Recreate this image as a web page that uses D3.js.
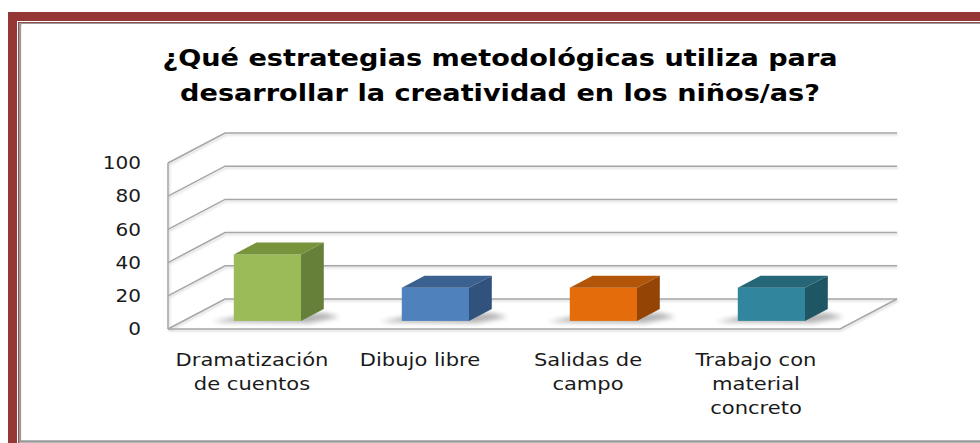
<!DOCTYPE html>
<html>
<head>
<meta charset="utf-8">
<script src="https://cdn.jsdelivr.net/npm/d3@7"></script>
<style>
  body { margin: 0; background: #fff; }
  text { font-family: "DejaVu Sans", sans-serif; fill: #1a1a1a; }
  .title { font-weight: bold; font-size: 23px; text-anchor: middle; fill: #000; }
  .tick-label { font-size: 17px; text-anchor: end; }
  .cat-label { font-size: 17px; text-anchor: middle; }
  .grid { stroke: #a6a6a6; stroke-width: 1.5; fill: none; }
</style>
</head>
<body>
<svg width="980" height="443"></svg>
<script>
const categories = [
  ['Dramatización', 'de cuentos'],
  ['Dibujo libre'],
  ['Salidas de', 'campo'],
  ['Trabajo con', 'material', 'concreto']
];
const values = [40, 20, 20, 20];
const yTicks = [0, 20, 40, 60, 80, 100];
const frontColors = ['#9bbb59', '#4f81bd', '#e46c0a', '#31859c'];
const topColors = ['#77933c', '#3b6190', '#b35508', '#256778'];
const sideColors = ['#66803a', '#30527d', '#944506', '#1f5664'];
const titleLines = ['¿Qué estrategias metodológicas utiliza para',
                    'desarrollar la creatividad en los niños/as?'];

const svg = d3.select('svg');
const width = +svg.attr('width');

// frame
svg.append('rect').attr('x', 8).attr('y', 12).attr('width', width).attr('height', 450).attr('fill', '#953735');
svg.append('rect').attr('x', 17).attr('y', 21).attr('width', width).attr('height', 450).attr('fill', '#fff');
svg.append('rect').attr('x', 18).attr('y', 22).attr('width', width).attr('height', 450).attr('fill', '#953735');
svg.append('rect').attr('x', 19.5).attr('y', 24).attr('width', width).attr('height', 450).attr('fill', '#fff');
svg.append('rect').attr('x', 20).attr('y', 24).attr('width', width).attr('height', 417.5)
  .attr('fill', '#fff').attr('stroke', '#9a9a9a').attr('stroke-width', 2.5);
svg.append('rect').attr('x', 21.5).attr('y', 24).attr('width', width).attr('height', 416)
  .attr('fill', '#fff');

const defs = svg.append('defs');
defs.append('filter').attr('id', 'blur').attr('x', '-50%').attr('y', '-50%').attr('width', '200%').attr('height', '200%')
  .append('feGaussianBlur').attr('stdDeviation', 2.5);
defs.append('filter').attr('id', 'lineShadow')
  .append('feDropShadow').attr('dx', 1).attr('dy', 1.5).attr('stdDeviation', 0.8)
  .attr('flood-color', '#000').attr('flood-opacity', 0.18);

// geometry
const depthX = 57, depthY = -30;
const x = d3.scaleBand().domain(d3.range(categories.length)).range([168, 840])
  .paddingInner(0.6).paddingOuter(0.3);
const y = d3.scaleLinear().domain([0, 100]).range([329, 163]);
const barFront = 0.27, barBack = 0.67;
const textStretch = 1.18;

const grid = svg.append('g').attr('filter', 'url(#lineShadow)');
// side wall diagonals + back wall lines
yTicks.forEach(t => {
  const y0 = y(t);
  grid.append('path').attr('class', 'grid')
    .attr('d', `M${x.range()[0]},${y0}L${x.range()[0] + depthX},${y0 + depthY}H${x.range()[1] + depthX}`);
});
// front left axis
grid.append('path').attr('class', 'grid')
  .attr('d', `M${x.range()[0]},${y(0)}V${y(100)}`);
// floor front + right edge
grid.append('path').attr('class', 'grid')
  .attr('d', `M${x.range()[0]},${y(0)}H${x.range()[1]}L${x.range()[1] + depthX},${y(0) + depthY}`);

// y tick labels
svg.append('g').selectAll('text').data(yTicks).enter().append('text')
  .attr('class', 'tick-label')
  .attr('transform', d => `translate(141,${y(d)}) scale(${textStretch},1)`)
  .attr('dy', '0.36em')
  .text(d => d);

// bars
const bars = svg.append('g');
values.forEach((v, i) => {
  const fx = x(i) + barFront * depthX;
  const fy = barFront * depthY;
  const w = x.bandwidth();
  const bx = (barBack - barFront) * depthX;
  const by = (barBack - barFront) * depthY;
  const yb = y(0) + fy;
  const yt = y(v) + fy;
  // floor shadow
  bars.append('path')
    .attr('d', `M${fx - 22},${yb + 1}L${fx + 10},${yb - 6}L${fx + w + bx},${yb + by + 4}L${fx + w + bx + 16},${yb + by + 8}L${fx + w + 8},${yb + 2}Z`)
    .attr('fill', '#000').attr('opacity', 0.3).attr('filter', 'url(#blur)');
  bars.append('rect')
    .attr('x', fx).attr('y', yt).attr('width', w).attr('height', yb - yt)
    .attr('fill', frontColors[i]);
  bars.append('path')
    .attr('d', `M${fx},${yt}l${bx},${by}h${w}l${-bx},${-by}Z`)
    .attr('fill', topColors[i]);
  bars.append('path')
    .attr('d', `M${fx + w},${yt}l${bx},${by}V${yb + by}l${-bx},${-by}Z`)
    .attr('fill', sideColors[i]);
});

// category labels
svg.append('g').selectAll('text').data(categories).enter().append('text')
  .attr('class', 'cat-label')
  .attr('transform', (d, i) => `translate(${x(i) + x.bandwidth() / 2},366) scale(1.24,1)`)
  .selectAll('tspan').data(d => d).enter().append('tspan')
  .attr('x', 0)
  .attr('dy', (d, j) => j === 0 ? 0 : 24)
  .text(d => d);

// title
svg.append('text').attr('class', 'title')
  .attr('transform', `translate(500,66) scale(${textStretch},1)`)
  .selectAll('tspan').data(titleLines).enter().append('tspan')
  .attr('x', 0).attr('dy', (d, j) => j === 0 ? 0 : 35)
  .text(d => d);
</script>
</body>
</html>
